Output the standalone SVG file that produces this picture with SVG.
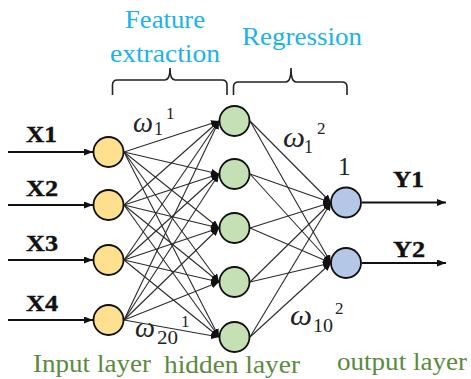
<svg xmlns="http://www.w3.org/2000/svg" width="471" height="379" viewBox="0 0 471 379">
<style>
.in{fill:#FFE08F;stroke:#111;stroke-width:1.8}
.hid{fill:#C5E0B4;stroke:#111;stroke-width:1.8}
.out{fill:#B4C7E7;stroke:#111;stroke-width:1.8}
.w{stroke:#2a2a2a;stroke-width:1.1;fill:none}
.io{stroke:#111;stroke-width:2;fill:none}
.br{stroke:#222;stroke-width:1.6;fill:none}
.lbl{font-family:"Liberation Serif","Times New Roman",serif;font-weight:bold;font-size:23px;fill:#111;stroke:#111;stroke-width:0.4}
.cy{font-family:"Liberation Serif","Times New Roman",serif;font-size:26px;fill:#1AB2EE}
.gr{font-family:"Liberation Serif","Times New Roman",serif;font-size:26px;fill:#5A8A3C}
.om{font-family:"Liberation Serif","Times New Roman",serif;font-style:italic;font-size:29px;fill:#222}
.sb{font-family:"Liberation Serif","Times New Roman",serif;font-size:18px;fill:#222}
.sp{font-family:"Liberation Serif","Times New Roman",serif;font-size:17px;fill:#222}
</style>
<defs>
<marker id="ah" markerUnits="userSpaceOnUse" markerWidth="8" markerHeight="7" refX="8" refY="3.5" orient="auto"><path d="M0,0 L8,3.5 L0,7 z" fill="#111"/></marker>
<marker id="ah2" markerUnits="userSpaceOnUse" markerWidth="9" markerHeight="7" refX="9" refY="3.5" orient="auto"><path d="M0,0 L9,3.5 L0,7 z" fill="#111"/></marker>
</defs>
<g id="braces">
<path class="br" d="M112.5,95 L112.5,85 Q112.5,80 117.5,80 L165,80 Q170,80 170,68 Q170,80 175,80 L222,80 Q227,80 227,85 L227,95"/>
<path class="br" d="M233.5,95 L233.5,87 Q233.5,82 238.5,82 L286,82 Q291,82 291,68 Q291,82 296,82 L342,82 Q347,82 347,87 L347,95"/>
</g>
<g id="titles">
<text class="cy" x="125" y="28" textLength="80" lengthAdjust="spacingAndGlyphs">Feature</text>
<text class="cy" x="110" y="62" textLength="110" lengthAdjust="spacingAndGlyphs">extraction</text>
<text class="cy" x="242" y="45" textLength="120" lengthAdjust="spacingAndGlyphs">Regression</text>
</g>
<g id="connectors">
<line class="io" x1="8" y1="152" x2="93" y2="152" marker-end="url(#ah2)"/>
<line class="io" x1="8" y1="205" x2="93" y2="205" marker-end="url(#ah2)"/>
<line class="io" x1="8" y1="260" x2="93" y2="260" marker-end="url(#ah2)"/>
<line class="io" x1="8" y1="320" x2="93" y2="320" marker-end="url(#ah2)"/>
<line class="io" x1="362" y1="202.5" x2="446" y2="202.5" marker-end="url(#ah2)"/>
<line class="io" x1="362" y1="263" x2="446" y2="263" marker-end="url(#ah2)"/>
<g marker-end="url(#ah)">
<line class="w" x1="124" y1="152" x2="219" y2="121"/>
<line class="w" x1="124" y1="152" x2="219" y2="174"/>
<line class="w" x1="124" y1="152" x2="219" y2="228"/>
<line class="w" x1="124" y1="152" x2="219" y2="282"/>
<line class="w" x1="124" y1="152" x2="219" y2="337"/>
<line class="w" x1="124" y1="205" x2="219" y2="121"/>
<line class="w" x1="124" y1="205" x2="219" y2="174"/>
<line class="w" x1="124" y1="205" x2="219" y2="228"/>
<line class="w" x1="124" y1="205" x2="219" y2="282"/>
<line class="w" x1="124" y1="205" x2="219" y2="337"/>
<line class="w" x1="124" y1="260" x2="219" y2="121"/>
<line class="w" x1="124" y1="260" x2="219" y2="174"/>
<line class="w" x1="124" y1="260" x2="219" y2="228"/>
<line class="w" x1="124" y1="260" x2="219" y2="282"/>
<line class="w" x1="124" y1="260" x2="219" y2="337"/>
<line class="w" x1="124" y1="320" x2="219" y2="121"/>
<line class="w" x1="124" y1="320" x2="219" y2="174"/>
<line class="w" x1="124" y1="320" x2="219" y2="228"/>
<line class="w" x1="124" y1="320" x2="219" y2="282"/>
<line class="w" x1="124" y1="320" x2="219" y2="337"/>
<line class="w" x1="250" y1="121" x2="331" y2="202.5"/>
<line class="w" x1="250" y1="121" x2="331" y2="263"/>
<line class="w" x1="250" y1="174" x2="331" y2="202.5"/>
<line class="w" x1="250" y1="174" x2="331" y2="263"/>
<line class="w" x1="250" y1="228" x2="331" y2="202.5"/>
<line class="w" x1="250" y1="228" x2="331" y2="263"/>
<line class="w" x1="250" y1="282" x2="331" y2="202.5"/>
<line class="w" x1="250" y1="282" x2="331" y2="263"/>
<line class="w" x1="250" y1="337" x2="331" y2="202.5"/>
<line class="w" x1="250" y1="337" x2="331" y2="263"/>
</g>
</g>
<g id="input1"><circle class="in" cx="108.5" cy="152" r="15"/><text class="lbl" x="26" y="142" textLength="31" lengthAdjust="spacingAndGlyphs">X1</text></g>
<g id="input2"><circle class="in" cx="108.5" cy="205" r="15"/><text class="lbl" x="26" y="196" textLength="32" lengthAdjust="spacingAndGlyphs">X2</text></g>
<g id="input3"><circle class="in" cx="108.5" cy="260" r="15"/><text class="lbl" x="26" y="251" textLength="32" lengthAdjust="spacingAndGlyphs">X3</text></g>
<g id="input4"><circle class="in" cx="108.5" cy="320" r="15"/><text class="lbl" x="26" y="311" textLength="32" lengthAdjust="spacingAndGlyphs">X4</text></g>
<g id="hidden1"><circle class="hid" cx="234.5" cy="121" r="15"/></g>
<g id="hidden2"><circle class="hid" cx="234.5" cy="174" r="15"/></g>
<g id="hidden3"><circle class="hid" cx="234.5" cy="228" r="15"/></g>
<g id="hidden4"><circle class="hid" cx="234.5" cy="282" r="15"/></g>
<g id="hidden5"><circle class="hid" cx="234.5" cy="337" r="15"/></g>
<g id="output1"><circle class="out" cx="346" cy="202.5" r="15"/><text class="lbl" x="393" y="187" textLength="31" lengthAdjust="spacingAndGlyphs">Y1</text></g>
<g id="output2"><circle class="out" cx="346" cy="263" r="15"/><text class="lbl" x="393" y="257" textLength="32" lengthAdjust="spacingAndGlyphs">Y2</text></g>
<g id="weights">
<text class="om" x="133" y="132" textLength="20" lengthAdjust="spacingAndGlyphs">ω</text><text class="sb" x="154" y="135">1</text><text class="sp" x="166" y="119">1</text>
<text class="om" x="283" y="147" textLength="22" lengthAdjust="spacingAndGlyphs">ω</text><text class="sb" x="304" y="153">1</text><text class="sp" x="317" y="134">2</text>
<text class="om" x="135" y="337" textLength="20" lengthAdjust="spacingAndGlyphs">ω</text><text class="sb" x="157" y="344" textLength="21" lengthAdjust="spacingAndGlyphs">20</text><text class="sp" x="181" y="327">1</text>
<text class="om" x="290" y="325" textLength="22" lengthAdjust="spacingAndGlyphs">ω</text><text class="sb" x="313" y="332" textLength="20" lengthAdjust="spacingAndGlyphs">10</text><text class="sp" x="335" y="314">2</text>
<text class="sb" x="338" y="175" style="font-size:25px">1</text>
</g>
<g id="layer-labels">
<text class="gr" x="33" y="372" textLength="118" lengthAdjust="spacingAndGlyphs">Input layer</text>
<text class="gr" x="164" y="372.5" textLength="136" lengthAdjust="spacingAndGlyphs">hidden layer</text>
<text class="gr" x="337" y="370" textLength="130" lengthAdjust="spacingAndGlyphs">output layer</text>
</g>
</svg>
